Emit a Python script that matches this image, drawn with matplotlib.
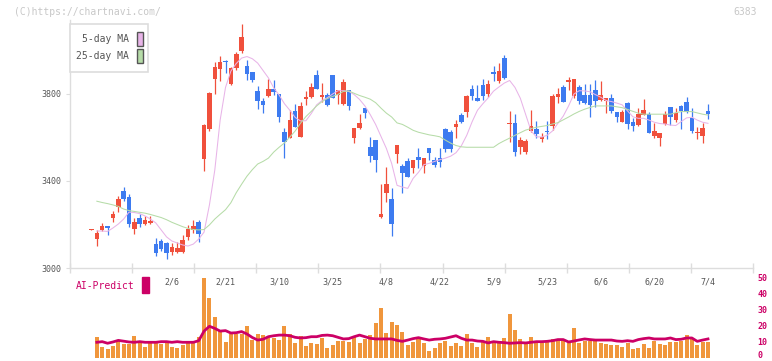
import numpy as np
import matplotlib
matplotlib.use('Agg')
import matplotlib.pyplot as plt
from matplotlib.patches import Rectangle
from matplotlib.transforms import blended_transform_factory, ScaledTranslation

# daily candles (oldest first)
opens = [3176, 3135, 3175, 3193, 3230, 3280, 3352, 3326, 3178, 3228,
         3201, 3205, 3110, 3124, 3115, 3075, 3075, 3075, 3144, 3176,
         3212, 3501, 3640, 3870, 3915, 3951, 3846, 3918, 3999, 3929,
         3901, 3814, 3768, 3789, 3822, 3800, 3625, 3596, 3722, 3604,
         3776, 3784, 3887, 3788, 3795, 3887, 3796, 3754, 3818, 3599,
         3642, 3737, 3558, 3589, 3236, 3346, 3316, 3523, 3469, 3492,
         3461, 3512, 3471, 3551, 3497, 3505, 3638, 3627, 3650, 3703,
         3719, 3822, 3783, 3841, 3799, 3903, 3861, 3964, 3662, 3665,
         3558, 3535, 3630, 3638, 3592, 3630, 3654, 3788, 3831, 3857,
         3791, 3831, 3795, 3795, 3818, 3772, 3769, 3780, 3716, 3673,
         3757, 3670, 3657, 3703, 3707, 3608, 3599, 3662, 3739, 3680,
         3745, 3762, 3688, 3619, 3608, 3722]
highs = [3180, 3175, 3208, 3195, 3264, 3331, 3371, 3340, 3228, 3247,
         3239, 3239, 3137, 3135, 3121, 3114, 3121, 3150, 3199, 3220,
         3221, 3660, 3808, 3949, 3975, 3956, 3926, 3993, 4122, 3956,
         3903, 3837, 3780, 3868, 3864, 3800, 3644, 3726, 3754, 3765,
         3815, 3852, 3910, 3849, 3803, 3887, 3818, 3869, 3818, 3645,
         3708, 3737, 3604, 3589, 3386, 3466, 3366, 3566, 3478, 3504,
         3497, 3550, 3505, 3551, 3509, 3551, 3642, 3634, 3681, 3711,
         3795, 3841, 3841, 3869, 3864, 3929, 3941, 3979, 3722, 3708,
         3604, 3593, 3726, 3676, 3619, 3676, 3799, 3826, 3841, 3880,
         3869, 3841, 3846, 3846, 3864, 3860, 3783, 3800, 3719, 3726,
         3762, 3688, 3734, 3777, 3719, 3665, 3619, 3722, 3739, 3734,
         3750, 3785, 3737, 3650, 3665, 3754]
lows = [3176, 3103, 3170, 3150, 3213, 3257, 3308, 3190, 3158, 3190,
        3196, 3202, 3055, 3080, 3041, 3060, 3070, 3068, 3129, 3160,
        3121, 3447, 3630, 3800, 3861, 3898, 3840, 3910, 3987, 3864,
        3855, 3731, 3711, 3785, 3795, 3673, 3507, 3596, 3650, 3604,
        3750, 3780, 3822, 3765, 3745, 3780, 3754, 3750, 3726, 3576,
        3638, 3691, 3489, 3443, 3228, 3302, 3149, 3481, 3346, 3420,
        3438, 3461, 3438, 3497, 3466, 3466, 3535, 3535, 3599, 3665,
        3696, 3772, 3769, 3772, 3785, 3860, 3852, 3868, 3581, 3516,
        3523, 3523, 3627, 3599, 3581, 3592, 3635, 3760, 3765, 3818,
        3783, 3754, 3754, 3696, 3742, 3769, 3714, 3714, 3673, 3673,
        3639, 3631, 3653, 3703, 3622, 3599, 3562, 3657, 3657, 3673,
        3639, 3711, 3622, 3593, 3576, 3685]
closes = [3180, 3159, 3193, 3185, 3248, 3316, 3316, 3204, 3210, 3202,
          3221, 3218, 3070, 3086, 3070, 3095, 3092, 3129, 3178, 3193,
          3155, 3658, 3805, 3923, 3947, 3946, 3920, 3984, 4062, 3893,
          3864, 3769, 3749, 3822, 3811, 3696, 3581, 3680, 3650, 3745,
          3788, 3831, 3822, 3795, 3750, 3783, 3818, 3857, 3745, 3645,
          3668, 3711, 3516, 3497, 3248, 3386, 3201, 3566, 3435, 3420,
          3497, 3497, 3505, 3530, 3474, 3485, 3547, 3547, 3662, 3673,
          3791, 3791, 3769, 3791, 3846, 3892, 3906, 3873, 3668, 3535,
          3589, 3584, 3653, 3616, 3604, 3626, 3791, 3799, 3765, 3864,
          3869, 3769, 3760, 3750, 3769, 3795, 3783, 3723, 3696, 3716,
          3662, 3654, 3707, 3726, 3622, 3630, 3619, 3707, 3693, 3711,
          3722, 3719, 3631, 3624, 3645, 3708]

nan = np.nan
ma5 = [nan, 3170, 3170, 3168, 3184, 3202, 3225, 3257, 3255, 3250, 3239,
       3225, 3207, 3175, 3143, 3124, 3115, 3106, 3101, 3110, 3133,
       3165, 3290, 3450, 3680, 3830, 3905, 3940, 3965, 3972, 3962,
       3942, 3908, 3874, 3828, 3795, 3755, 3725, 3692, 3676, 3677,
       3710, 3750, 3770, 3783, 3800, 3815, 3815, 3812, 3797, 3775,
       3745, 3705, 3660, 3605, 3550, 3480, 3380, 3372, 3366, 3412,
       3440, 3475, 3481, 3490, 3498, 3505, 3514, 3530, 3562, 3610,
       3672, 3725, 3755, 3782, 3813, 3832, 3850, 3862, 3830, 3780,
       3705, 3630, 3603, 3602, 3610, 3630, 3665, 3698, 3745, 3800,
       3815, 3814, 3810, 3797, 3785, 3770, 3765, 3758, 3750, 3722,
       3695, 3688, 3688, 3680, 3670, 3664, 3662, 3657, 3655, 3673,
       3690, 3693, 3680, 3670, 3665]
ma25 = [nan, 3307, 3301, 3296, 3290, 3283, 3271, 3264, 3260, 3256, 3252,
        3246, 3239, 3232, 3222, 3210, 3200, 3190, 3182, 3177, 3175,
        3177, 3198, 3225, 3247, 3268, 3300, 3346, 3385, 3422, 3452,
        3478, 3490, 3505, 3533, 3555, 3575, 3602, 3630, 3666, 3696,
        3720, 3745, 3765, 3779, 3789, 3798, 3812, 3814, 3803, 3793,
        3785, 3776, 3760, 3735, 3712, 3694, 3667, 3660, 3647, 3633,
        3624, 3618, 3612, 3608, 3603, 3588, 3574, 3563, 3557, 3555,
        3555, 3555, 3555, 3555, 3555, 3572, 3585, 3597, 3610, 3622,
        3634, 3641, 3647, 3651, 3655, 3662, 3668, 3681, 3694, 3708,
        3720, 3730, 3738, 3745, 3745, 3745, 3745, 3741, 3737, 3729,
        3720, 3712, 3707, 3707, 3707, 3707, 3707, 3707, 3714, 3719,
        3719, 3719, 3713, 3707, 3703]

# lower panel (from the 2nd day on)
volume = [13.0, 6.8, 5.3, 7.4, 10.1, 8.4, 8.4, 13.6, 9.5, 6.8,
          9.1, 9.1, 8.4, 10.5, 6.8, 5.9, 8.0, 8.8, 8.8, 13.0,
          49.7, 37.2, 25.5, 16.4, 9.5, 15.0, 14.7, 15.0, 19.9, 10.9,
          14.7, 14.0, 12.2, 12.2, 10.9, 19.9, 14.7, 9.1, 13.6, 7.4,
          9.1, 8.4, 12.2, 5.9, 8.0, 10.3, 10.3, 9.9, 13.6, 9.1,
          11.6, 14.0, 21.6, 30.9, 15.3, 22.2, 20.3, 15.9, 8.0, 9.9,
          11.6, 9.1, 4.3, 5.9, 9.1, 10.5, 7.4, 9.1, 7.4, 14.7,
          9.1, 6.8, 10.5, 13.0, 9.1, 9.1, 12.2, 27.2, 17.2, 11.6,
          9.1, 13.0, 9.1, 9.1, 9.5, 11.6, 10.5, 10.5, 9.1, 18.4,
          9.1, 10.5, 10.5, 10.5, 9.1, 8.4, 7.8, 7.8, 6.5, 9.1,
          5.3, 5.9, 8.4, 5.9, 10.5, 8.4, 7.8, 9.9, 9.9, 10.5,
          14.0, 12.2, 7.8, 9.9, 9.9]
ai_predict = [9.5, 9.9, 8.9, 9.7, 10.7, 10.2, 9.7, 9.5, 9.9, 9.5,
              9.5, 9.5, 9.9, 9.9, 9.5, 9.9, 9.5, 9.5, 9.5, 10.5,
              16.5, 19.5, 18.2, 16.5, 16.8, 15.3, 15.5, 16.2, 14.7, 12.5,
              10.9, 11.4, 13.0, 13.6, 14.0, 14.0, 13.6, 12.6, 12.2, 12.4,
              13.0, 13.0, 13.8, 14.0, 13.6, 12.6, 11.6, 11.8, 13.0, 14.0,
              13.0, 12.0, 11.6, 11.6, 11.6, 11.6, 10.7, 10.1, 10.9, 11.8,
              12.4, 11.6, 10.9, 11.4, 11.6, 12.0, 12.8, 13.6, 12.0, 10.9,
              10.9, 10.3, 10.1, 9.1, 9.9, 9.5, 9.3, 8.9, 9.1, 9.3,
              9.1, 9.5, 9.9, 9.9, 10.1, 10.5, 11.2, 11.2, 9.7, 10.3,
              11.0, 11.6, 11.2, 10.9, 10.9, 10.9, 10.9, 10.3, 10.1, 10.5,
              10.1, 11.2, 11.8, 12.2, 11.6, 11.6, 11.6, 12.2, 11.2, 11.4,
              12.2, 12.2, 10.1, 10.9, 11.6]

date_labels = ['2/6', '2/21', '3/10', '3/25', '4/8', '4/22', '5/9', '5/23', '6/6', '6/20', '7/4']
date_pos = [15, 25, 35, 45, 55, 65, 75, 85, 95, 105, 115]
price_ticks = [3000, 3400, 3800]
ai_ticks = [0, 10, 20, 30, 40, 50]

W, H = 772, 361
MONO = 'DejaVu Sans Mono'
RED = '#f0503c'
BLUE = '#3d7bf0'
PINK = '#e8b4e8'
GREEN = '#b6dca8'
CRIMSON = '#cc0066'
GRID = '#dddddd'


def fx(px):
    return px / W


def fy(py):
    return 1 - py / H


fig = plt.figure(figsize=(W / 100, H / 100), dpi=100)
ax = fig.add_axes([fx(70), fy(268), fx(753) - fx(70), fy(20) - fy(268)])
ax2 = fig.add_axes([fx(70), fy(357.5), fx(753) - fx(70), fy(277.5) - fy(357.5)])

o = np.array(opens, float)
h = np.array(highs, float)
l = np.array(lows, float)
c = np.array(closes, float)
x = np.arange(len(o))
col = np.where(c >= o, RED, BLUE)

ax.vlines(x, l, h, colors=col, lw=0.9, zorder=2)
ax.bar(x, np.maximum(np.abs(c - o), 4), bottom=np.minimum(o, c), width=0.85,
       color=col, zorder=3)
ax.plot(x, ma5, color=PINK, lw=0.75, zorder=4)
ax.plot(x, ma25, color=GREEN, lw=0.75, zorder=4)

xmin, xmax = -4.01, 123.4
ax.set_xlim(xmin, xmax)
ax.set_ylim(3000, 4140)
for s in ['top', 'right']:
    ax.spines[s].set_visible(False)
for s in ['left', 'bottom']:
    ax.spines[s].set_color(GRID)
    ax.spines[s].set_linewidth(1)
ax.set_yticks(price_ticks)
ax.set_yticklabels([str(v) for v in price_ticks], fontsize=6, color='#555555', family=MONO)
ax.tick_params(axis='y', length=3, color=GRID, pad=3)
ax.set_xticks(np.linspace(xmin, xmax, 12))
ax.set_xticklabels([])
ax.tick_params(axis='x', direction='inout', length=7, color=GRID, width=1)

tr = blended_transform_factory(ax.transData, fig.transFigure)
for p, lab in zip(date_pos, date_labels):
    ax.text(p, fy(282), lab, transform=tr, ha='center', va='center',
            fontsize=6, color='#555555', family=MONO)

# lower panel
ax2.bar(x[1:], volume, width=0.75, color='#f0963c', zorder=2)
ax2.plot(x[1:], ai_predict, color=CRIMSON, lw=2, zorder=3)
ax2.set_xlim(xmin, xmax)
ax2.set_ylim(0, 50)
for s in ax2.spines.values():
    s.set_visible(False)
ax2.patch.set_alpha(0)
ax2.set_xticks([])
ax2.yaxis.tick_right()
ax2.set_yticks(ai_ticks)
ax2.set_yticklabels([str(v) for v in ai_ticks], fontsize=6, color=CRIMSON,
                    family=MONO, fontweight='bold')
ax2.tick_params(axis='y', length=0, pad=3)
# keep the "0" label inside the picture
zero_lab = ax2.get_yticklabels()[0]
zero_lab.set_transform(zero_lab.get_transform() + ScaledTranslation(0, 0.025, fig.dpi_scale_trans))

fig.text(fx(76), fy(286), 'AI-Predict', fontsize=7, color=CRIMSON, family=MONO, va='center')
fig.add_artist(Rectangle((fx(142.3), fy(292.7)), 6.4 / W, 15.7 / H,
                         transform=fig.transFigure, color=CRIMSON))

# legend
fig.add_artist(Rectangle((fx(70), fy(72)), 78 / W, 48 / H, transform=fig.transFigure,
                         facecolor='white', edgecolor=GRID, lw=1.2))
fig.text(fx(129), fy(39), '5-day MA', fontsize=7, color='#555555', family=MONO,
         ha='right', va='center')
fig.text(fx(129), fy(56), '25-day MA', fontsize=7, color='#555555', family=MONO,
         ha='right', va='center')
fig.add_artist(Rectangle((fx(136.5), fy(46)), 6.5 / W, 14.3 / H, transform=fig.transFigure,
                         facecolor=PINK, edgecolor='#555555', lw=1))
fig.add_artist(Rectangle((fx(136.5), fy(63)), 6.5 / W, 14.3 / H, transform=fig.transFigure,
                         facecolor=GREEN, edgecolor='#555555', lw=1))

fig.text(fx(14), fy(12.3), '(C)https://chartnavi.com/', fontsize=7, color='#c8c8c8',
         family=MONO, va='center')
fig.text(fx(757), fy(12.3), '6383', fontsize=7, color='#c8c8c8', family=MONO,
         va='center', ha='right')

fig.savefig('out.png', dpi=100)
